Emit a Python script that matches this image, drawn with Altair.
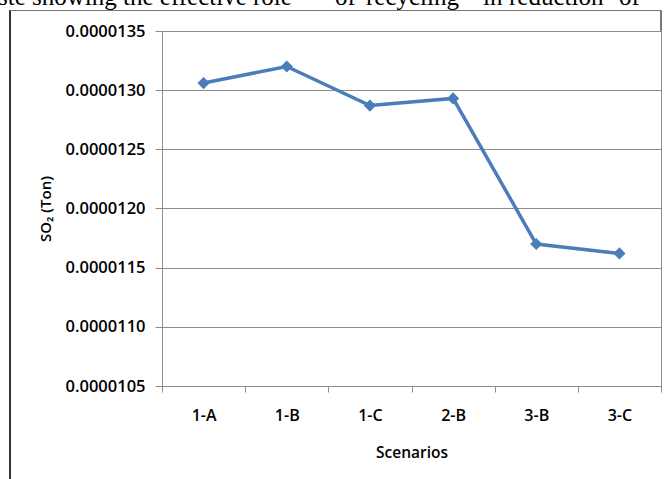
import altair as alt
import pandas as pd

# SO2 emissions per scenario
scenarios = ["1-A", "1-B", "1-C", "2-B", "3-B", "3-C"]
so2_ton = [0.00001306, 0.00001320, 0.00001287, 0.00001293, 0.00001170, 0.00001162]
y_ticks = [0.0000105, 0.0000110, 0.0000115, 0.0000120, 0.0000125, 0.0000130, 0.0000135]

# running text of the page, cut by the top edge of the figure
caption_words = ["ste showing the effective role", "of", "recycling", "in", "reduction", "of"]
caption_x = [-2, 335, 366, 483, 509, 619]

df = pd.DataFrame({"Scenario": scenarios, "SO2": so2_ton})

W, H = 499, 355
LEFT, TOP = 162, 31
FONT = "Open Sans"
LINE_BLUE = "#4a7ebb"
GRID = "#8c8c8c"

x_enc = alt.X(
    "Scenario:N",
    sort=scenarios,
    title="Scenarios",
    axis=alt.Axis(
        labelAngle=0,
        tickBand="extent",
        grid=False,
        tickSize=6,
        tickColor=GRID,
        domainColor=GRID,
        labelPadding=15,
        labelFont=FONT,
        labelFontSize=16,
        labelFontWeight=600,
        labelColor="black",
        titleFont=FONT,
        titleFontSize=15.5,
        titleFontWeight=600,
        titleColor="black",
        titlePadding=22,
    ),
    scale=alt.Scale(paddingInner=0, paddingOuter=0),
)
y_enc = alt.Y(
    "SO2:Q",
    title="SO₂ (Ton)",
    scale=alt.Scale(domain=[y_ticks[0], y_ticks[-1]], nice=False, zero=False),
    axis=alt.Axis(
        values=y_ticks,
        format=".7f",
        grid=True,
        gridColor=GRID,
        tickSize=7,
        tickColor=GRID,
        domainColor=GRID,
        labelPadding=10,
        labelFont=FONT,
        labelFontSize=16.5,
        labelFontWeight=600,
        labelColor="black",
        titleFont=FONT,
        titleFontSize=15,
        titleFontWeight=600,
        titleColor="black",
        titlePadding=12,
    ),
)

line = alt.Chart(df).mark_line(color=LINE_BLUE, strokeWidth=3.5).encode(x=x_enc, y=y_enc)
points = alt.Chart(df).mark_point(
    shape="diamond", filled=True, size=150, color=LINE_BLUE, opacity=1
).encode(x=x_enc, y=y_enc)

# surrounding frame of the figure
frame_left = alt.Chart(df).mark_rule(color="#333333", strokeWidth=2).encode(
    x=alt.value(10 - LEFT), y=alt.value(10 - TOP), y2=alt.value(479 - TOP)
)
frame_top = alt.Chart(df).mark_rule(color="#777777", strokeWidth=1).encode(
    x=alt.value(10 - LEFT), x2=alt.value(W), y=alt.value(10.5 - TOP)
)
frame_right = alt.Chart(df).mark_rule(color="#777777", strokeWidth=1).encode(
    x=alt.value(W), y=alt.value(10.5 - TOP), y2=alt.value(0)
)

caption_df = pd.DataFrame({"word": caption_words, "px": [v - LEFT for v in caption_x]})
caption = alt.Chart(caption_df).mark_text(
    font="Liberation Serif",
    fontSize=25,
    fontWeight="normal",
    align="left",
    baseline="alphabetic",
    color="black",
).encode(
    x=alt.X("px:Q", scale=None),
    y=alt.value(5 - TOP),
    text="word:N",
)

chart = (
    alt.layer(frame_left, frame_top, frame_right, caption, line, points)
    .properties(
        width=W,
        height=H,
        padding={"left": LEFT, "top": TOP, "right": 669 - LEFT - W, "bottom": 479 - TOP - H},
        autosize=alt.AutoSizeParams(type="none"),
        background="white",
    )
    .configure_view(stroke=GRID, strokeWidth=1)
)

chart.save("out.html", embed_options={"renderer": "svg", "actions": False})
